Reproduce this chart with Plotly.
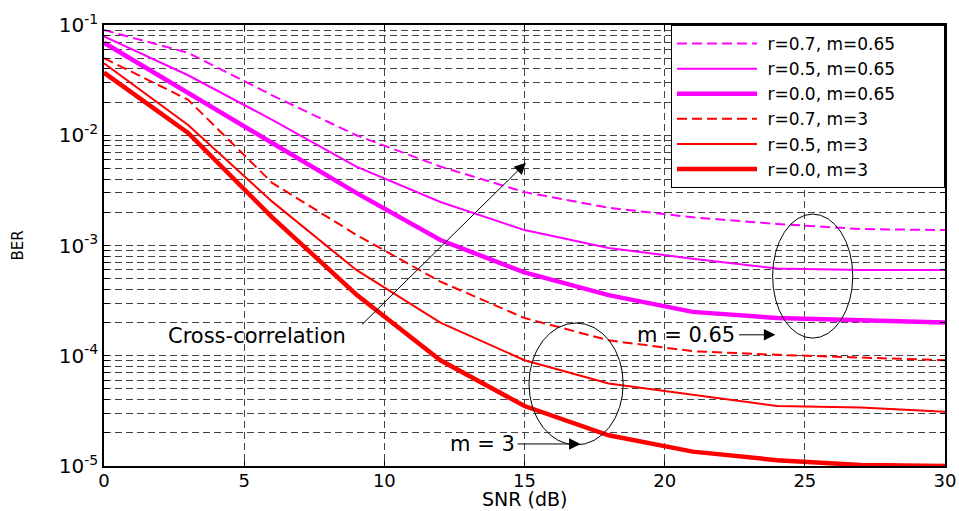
import plotly.graph_objects as go

snr = [0, 3, 6, 9, 12, 15, 18, 21, 24, 27, 30]

ber_r07_m065 = [0.090, 0.056, 0.023, 0.0100, 5.2e-3, 3.05e-3, 2.2e-3, 1.8e-3, 1.57e-3, 1.41e-3, 1.38e-3]
ber_r05_m065 = [0.079, 0.035, 0.0138, 5.2e-3, 2.48e-3, 1.38e-3, 9.5e-4, 7.6e-4, 6.2e-4, 6.0e-4, 6.0e-4]
ber_r00_m065 = [0.069, 0.024, 8.5e-3, 3.0e-3, 1.12e-3, 5.7e-4, 3.55e-4, 2.5e-4, 2.2e-4, 2.1e-4, 2.0e-4]
ber_r07_m3 = [0.050, 0.021, 3.7e-3, 1.25e-3, 4.7e-4, 2.2e-4, 1.38e-4, 1.1e-4, 1.02e-4, 9.7e-5, 9.1e-5]
ber_r05_m3 = [0.045, 0.0124, 2.5e-3, 6.0e-4, 2.0e-4, 9.1e-5, 5.6e-5, 4.4e-5, 3.5e-5, 3.4e-5, 3.1e-5]
ber_r00_m3 = [0.037, 0.0105, 1.8e-3, 3.6e-4, 9.1e-5, 3.5e-5, 1.9e-5, 1.35e-5, 1.13e-5, 1.02e-5, 1.0e-5]

names = ["r=0.7, m=0.65", "r=0.5, m=0.65", "r=0.0, m=0.65",
         "r=0.7, m=3", "r=0.5, m=3", "r=0.0, m=3"]
series = [ber_r07_m065, ber_r05_m065, ber_r00_m065, ber_r07_m3, ber_r05_m3, ber_r00_m3]
colors = ["#FF00FF", "#FF00FF", "#FF00FF", "#FF0000", "#FF0000", "#FF0000"]
dashes = ["10px,5px", "solid", "solid", "10px,5px", "solid", "solid"]
widths = [2, 2, 4.5, 2, 2, 4.5]

xticks = [0, 5, 10, 15, 20, 25, 30]
ydecade_labels = ["10<sup>-5</sup>", "10<sup>-4</sup>", "10<sup>-3</sup>", "10<sup>-2</sup>", "10<sup>-1</sup>"]

font = "DejaVu Sans, sans-serif"
lead = "\u00a0"
pad = "\u00a0" * 8

fig = go.Figure()
for name, ys, c, d, w in zip(names, series, colors, dashes, widths):
    fig.add_trace(go.Scatter(x=snr, y=ys, mode="lines", name=lead + name + pad,
                             line=dict(color=c, dash=d, width=w)))

# grid values (all 1..9 x decade)
gridvals = []
gridtext = []
for k in range(-5, -1):
    for m in range(1, 10):
        gridvals.append(m * 10.0 ** k)
        gridtext.append(ydecade_labels[k + 5] if m == 1 else "")
gridvals.append(1e-1)
gridtext.append(ydecade_labels[4])

fig.update_layout(
    width=959, height=511,
    margin=dict(l=104, r=14, t=25, b=45, autoexpand=False),
    paper_bgcolor="white", plot_bgcolor="white",
    font=dict(family=font, size=20, color="black"),
    showlegend=True,
    legend=dict(x=1, y=1, xanchor="right", yanchor="top",
                bgcolor="white", bordercolor="black", borderwidth=1,
                font=dict(family=font, size=17), tracegroupgap=0,
                itemwidth=80),
    xaxis=dict(range=[0, 30], tickvals=xticks, showgrid=True,
               gridcolor="#444", griddash="7px,4px", gridwidth=1,
               showline=True, linecolor="black", linewidth=1.5, mirror="allticks",
               ticks="inside", ticklen=5, tickcolor="black",
               zeroline=False, automargin=False, ticklabelstandoff=-2,
               tickfont=dict(size=18)),
    yaxis=dict(type="log", range=[-5, -1], tickvals=gridvals, ticktext=gridtext,
               showgrid=True, gridcolor="#444", griddash="7px,4px", gridwidth=1,
               showline=True, linecolor="black", linewidth=1.5, mirror="allticks",
               ticks="inside", ticklen=5, tickcolor="black",
               zeroline=False, automargin=False,
               title=dict(text="BER", font=dict(size=15), standoff=32),
               tickfont=dict(size=20)),
)

# x-axis title placed below the tick labels
fig.add_annotation(x=0.5, y=-0.102, xref="paper", yref="paper", text="SNR (dB)",
                   showarrow=False, yanchor="bottom", borderpad=0,
                   font=dict(size=19))

# annotations
fig.add_annotation(x=15.05, y=-2.25, ax=9.15, ay=-3.73, xref="x", yref="y",
                   axref="x", ayref="y", showarrow=True, arrowhead=2,
                   arrowsize=2.3, arrowwidth=1, arrowcolor="black", text="")
fig.add_annotation(x=5.45, y=-3.82, xref="x", yref="y", text="Cross-correlation",
                   showarrow=False, font=dict(size=21))
fig.add_annotation(x=23.95, y=-3.81, ax=22.6, ay=-3.81, xref="x", yref="y",
                   axref="x", ayref="y", showarrow=True, arrowhead=2,
                   arrowsize=2.3, arrowwidth=1, arrowcolor="black", text="")
fig.add_annotation(x=20.75, y=-3.81, xref="x", yref="y", text="m = 0.65",
                   showarrow=False, font=dict(size=21))
fig.add_annotation(x=17.0, y=-4.80, ax=14.7, ay=-4.80, xref="x", yref="y",
                   axref="x", ayref="y", showarrow=True, arrowhead=2,
                   arrowsize=2.3, arrowwidth=1, arrowcolor="black", text="")
fig.add_annotation(x=13.5, y=-4.80, xref="x", yref="y", text="m = 3",
                   showarrow=False, font=dict(size=21))

fig.add_shape(type="circle", xref="x", yref="y", x0=15.16, x1=18.52,
              y0=10 ** -4.809, y1=10 ** -3.703, line=dict(color="black", width=1))
fig.add_shape(type="circle", xref="x", yref="y", x0=23.85, x1=26.71,
              y0=10 ** -3.84, y1=10 ** -2.715, line=dict(color="black", width=1))

fig.write_html("out.html", config={"displayModeBar": False},
               post_script="document.body.style.margin='0';")
